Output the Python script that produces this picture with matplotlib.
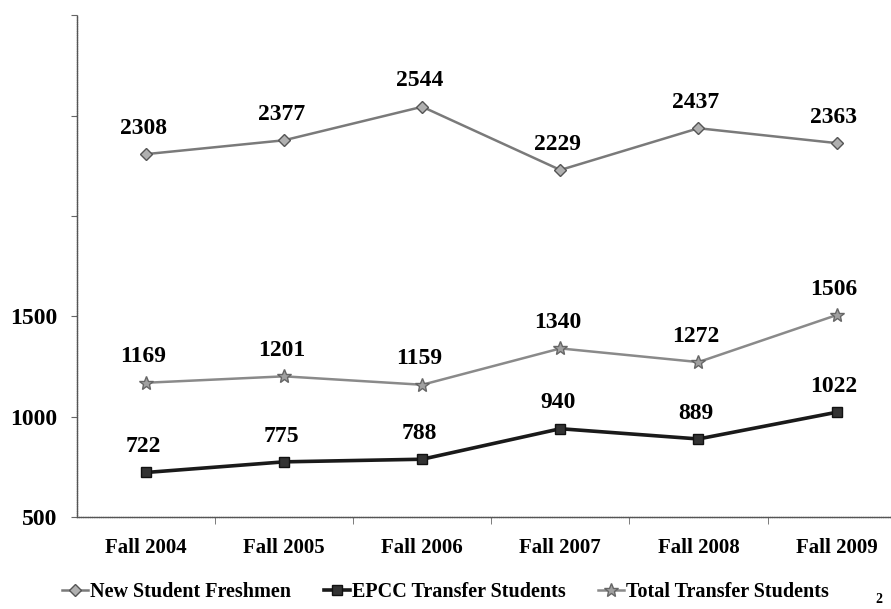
import matplotlib.pyplot as plt

terms = ["Fall 2004", "Fall 2005", "Fall 2006", "Fall 2007", "Fall 2008", "Fall 2009"]
freshmen = [2308, 2377, 2544, 2229, 2437, 2363]
epcc = [722, 775, 788, 940, 889, 1022]
total_transfer = [1169, 1201, 1159, 1340, 1272, 1506]

plt.rcParams['font.family'] = ['Liberation Serif', 'DejaVu Serif']
plt.rcParams['font.weight'] = 'bold'

fig = plt.figure(figsize=(8.91, 6.09), dpi=100)
ax = fig.add_axes([0.0864, 0.151, 0.93, 0.824])

x = list(range(len(terms)))
ax.plot(x, freshmen, color='#7a7a7a', lw=1.8, marker='D', ms=6,
        mfc='#b0b0b0', mec='#555555', label='New Student Freshmen')
ax.plot(x, epcc, color='#1a1a1a', lw=2.6, marker='s', ms=7,
        mfc='#333333', mec='#111111', label='EPCC Transfer Students')
ax.plot(x, total_transfer, color='#8a8a8a', lw=1.8, marker='*', ms=10,
        mfc='#a0a0a0', mec='#666666', label='Total Transfer Students')

for series in (freshmen, epcc, total_transfer):
    for i, v in enumerate(series):
        ax.annotate(str(v), (i, v), xytext=(-2, 11), textcoords='offset points',
                    ha='center', va='bottom', fontsize=17, fontweight='bold')

ax.set_xlim(-0.5, len(terms) - 0.5)
ax.set_ylim(500, 3000)
ax.set_yticks([500, 1000, 1500, 2000, 2500, 3000])
ax.set_yticklabels(['500', '1000', '1500', '', '', ''], fontsize=17)
ax.set_xticks(x)
ax.set_xticklabels(terms, fontsize=15)
ax.set_xticks([i + 0.5 for i in x[:-1]], minor=True)
ax.tick_params(axis='x', which='major', length=0, pad=15)
ax.tick_params(axis='x', which='minor', length=5, color='#666666', direction='out')
ax.tick_params(axis='y', length=4, color='#666666', direction='out', pad=10)

for s in ('top', 'right'):
    ax.spines[s].set_visible(False)
for s in ('left', 'bottom'):
    ax.spines[s].set_color('#555555')
    ax.spines[s].set_linewidth(1.0)
    ax.spines[s].set_linestyle((0, (1, 0.6)))

fig.legend(loc='lower center', bbox_to_anchor=(0.5, -0.018), ncol=3, frameon=False,
           fontsize=14.5, handlelength=1.3, handletextpad=0.1, columnspacing=1.6)
fig.text(0.99, 0.005, '2', fontsize=10, ha='right', va='bottom')

fig.savefig('out.png', dpi=100)
